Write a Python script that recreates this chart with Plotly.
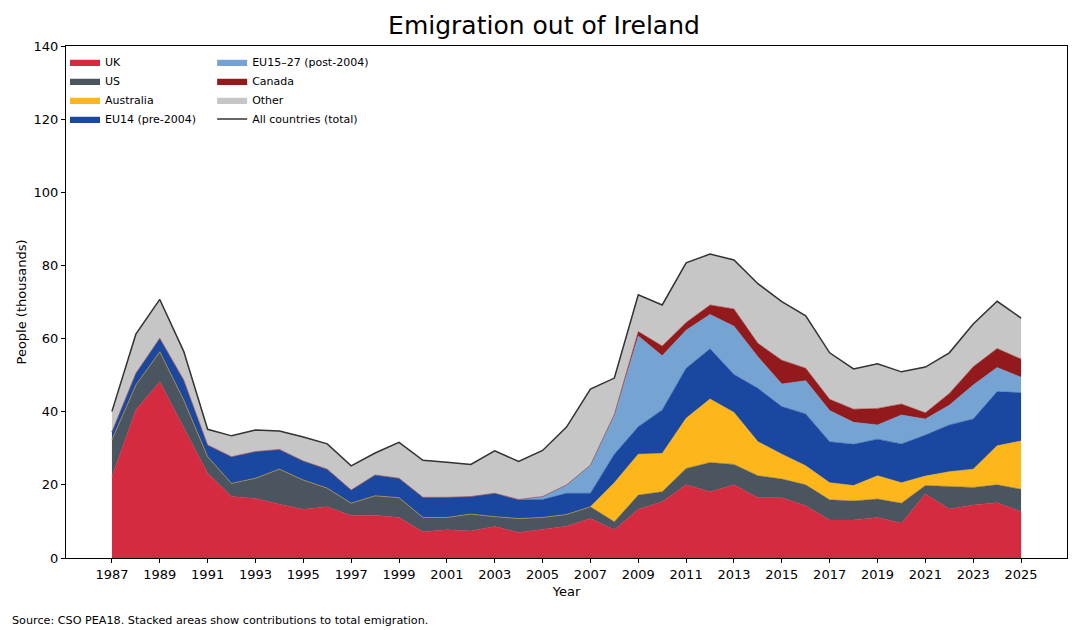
import plotly.graph_objects as go

years = list(range(1987, 2026))

# thousands of people
uk = [22.2, 40.5, 48.2, 35.9, 23.2, 16.8, 16.3, 14.7, 13.3, 14.0, 11.6, 11.7, 11.1,
      7.2, 7.7, 7.4, 8.6, 7.0, 7.9, 8.7, 10.8, 7.7, 13.3, 15.4, 20.0, 18.1, 20.0,
      16.5, 16.5, 14.3, 10.4, 10.4, 11.1, 9.5, 17.5, 13.4, 14.5, 15.1, 12.7]
us = [10.1, 6.8, 8.2, 7.3, 4.5, 3.6, 5.5, 9.6, 8.0, 5.1, 3.4, 5.3, 5.4,
      3.9, 3.4, 4.6, 2.7, 3.8, 3.2, 3.2, 3.2, 2.2, 3.9, 2.7, 4.5, 8.0, 5.6,
      6.0, 5.1, 5.7, 5.5, 5.2, 5.0, 5.5, 2.3, 6.1, 4.8, 4.9, 6.1]
australia = [0] * 20 + [0.0, 10.7, 11.2, 10.5, 13.7, 17.4, 14.2,
                        9.3, 6.8, 5.2, 4.7, 4.2, 6.4, 5.6, 2.6, 4.1, 5.0, 10.7, 13.2]
eu14 = [2.2, 3.2, 3.7, 5.5, 3.2, 7.3, 7.3, 5.4, 5.2, 5.2, 3.6, 5.7, 5.3,
        5.5, 5.5, 4.8, 6.4, 5.1, 4.9, 5.8, 3.7, 7.8, 7.5, 11.9, 13.7, 13.7, 10.4,
        14.6, 13.0, 14.2, 11.2, 11.3, 10.0, 10.6, 11.2, 12.8, 13.7, 14.8, 13.2]
eu15_27 = [0] * 17 + [0.1, 0.8, 2.3, 7.7, 10.7, 24.8, 14.8, 10.4, 9.4, 13.2,
                      8.6, 6.2, 9.1, 8.5, 6.0, 3.9, 7.9, 4.4, 5.4, 9.3, 6.6, 4.2]
canada = [0] * 20 + [0.0, 0.2, 1.2, 2.7, 2.1, 2.6, 4.7,
                     3.7, 6.5, 3.4, 3.1, 3.6, 4.5, 3.0, 1.7, 3.2, 5.0, 5.2, 5.0]
other = [5.5, 10.7, 10.6, 7.8, 4.3, 5.7, 5.9, 5.0, 6.6, 6.9, 6.6, 6.0, 9.8,
         10.1, 9.6, 8.8, 11.6, 10.4, 12.6, 15.8, 20.8, 9.9, 10.1, 11.2, 16.3, 13.9, 13.4,
         16.3, 16.0, 14.3, 12.7, 11.0, 12.2, 8.8, 12.5, 11.1, 11.7, 12.9, 11.2]
total = [40.1, 61.2, 70.7, 56.5, 35.2, 33.4, 35.0, 34.7, 33.1, 31.2, 25.2, 28.7, 31.6,
         26.7, 26.2, 25.6, 29.3, 26.4, 29.4, 35.8, 46.2, 49.2, 72.0, 69.2, 80.7, 83.1, 81.5,
         75.0, 70.1, 66.2, 56.1, 51.7, 53.1, 50.9, 52.2, 56.1, 64.0, 70.2, 65.6]

series = [
    ('UK', uk, '#d42b40', 'legend'),
    ('US', us, '#4a5560', 'legend'),
    ('Australia', australia, '#fdb71a', 'legend'),
    ('EU14 (pre-2004)', eu14, '#1a47a0', 'legend'),
    ('EU15–27 (post-2004)', eu15_27, '#75a4d3', 'legend2'),
    ('Canada', canada, '#921a1d', 'legend2'),
    ('Other', other, '#c6c6c6', 'legend2'),
]

fig = go.Figure()
for name, vals, color, leg in series:
    fig.add_trace(go.Scatter(
        x=years, y=vals, name=name, mode='lines', stackgroup='one',
        line=dict(width=0.5, color=color), fillcolor=color, legend=leg,
    ))

fig.add_trace(go.Scatter(
    x=years, y=total, name='All countries (total)', mode='lines',
    line=dict(color='#333333', width=1.5), legend='legend2',
))

font = dict(family='DejaVu Sans', size=12, color='black')
axis = dict(showline=True, linecolor='black', linewidth=1, mirror=True,
            ticks='outside', ticklen=4, tickcolor='black', showgrid=False,
            zeroline=False, tickfont=dict(size=13))
leg_style = dict(xanchor='left', yanchor='top', bgcolor='rgba(255,255,255,0)',
                 font=dict(size=11), tracegroupgap=0, itemwidth=30,
                 traceorder='normal')

# page has an 8px body margin, so the figure is a bit smaller than the window
fig.update_layout(
    width=1072, height=622,
    margin=dict(l=55, r=13, t=38, b=72),
    plot_bgcolor='white', paper_bgcolor='white',
    font=font,
    title=dict(text='Emigration out of Ireland', x=0.5, xanchor='center',
               y=0.973, yanchor='middle', font=dict(size=25)),
    xaxis=dict(axis, range=[1985.08, 2026.92], tickmode='array',
               tickvals=list(range(1987, 2026, 2)),
               title=dict(text='Year', font=dict(size=13), standoff=6)),
    yaxis=dict(axis, range=[0, 140], dtick=20,
               title=dict(text='People (thousands)', font=dict(size=13), standoff=4)),
    legend=dict(leg_style, x=-0.001, y=0.997),
    legend2=dict(leg_style, x=0.146, y=0.997),
    annotations=[dict(
        text='Source: CSO PEA18. Stacked areas show contributions to total emigration.',
        xref='paper', yref='paper', x=-0.056, y=-0.105, xanchor='left', yanchor='top',
        showarrow=False, font=dict(size=11.2),
    )],
)

fig.write_html('out.html')
